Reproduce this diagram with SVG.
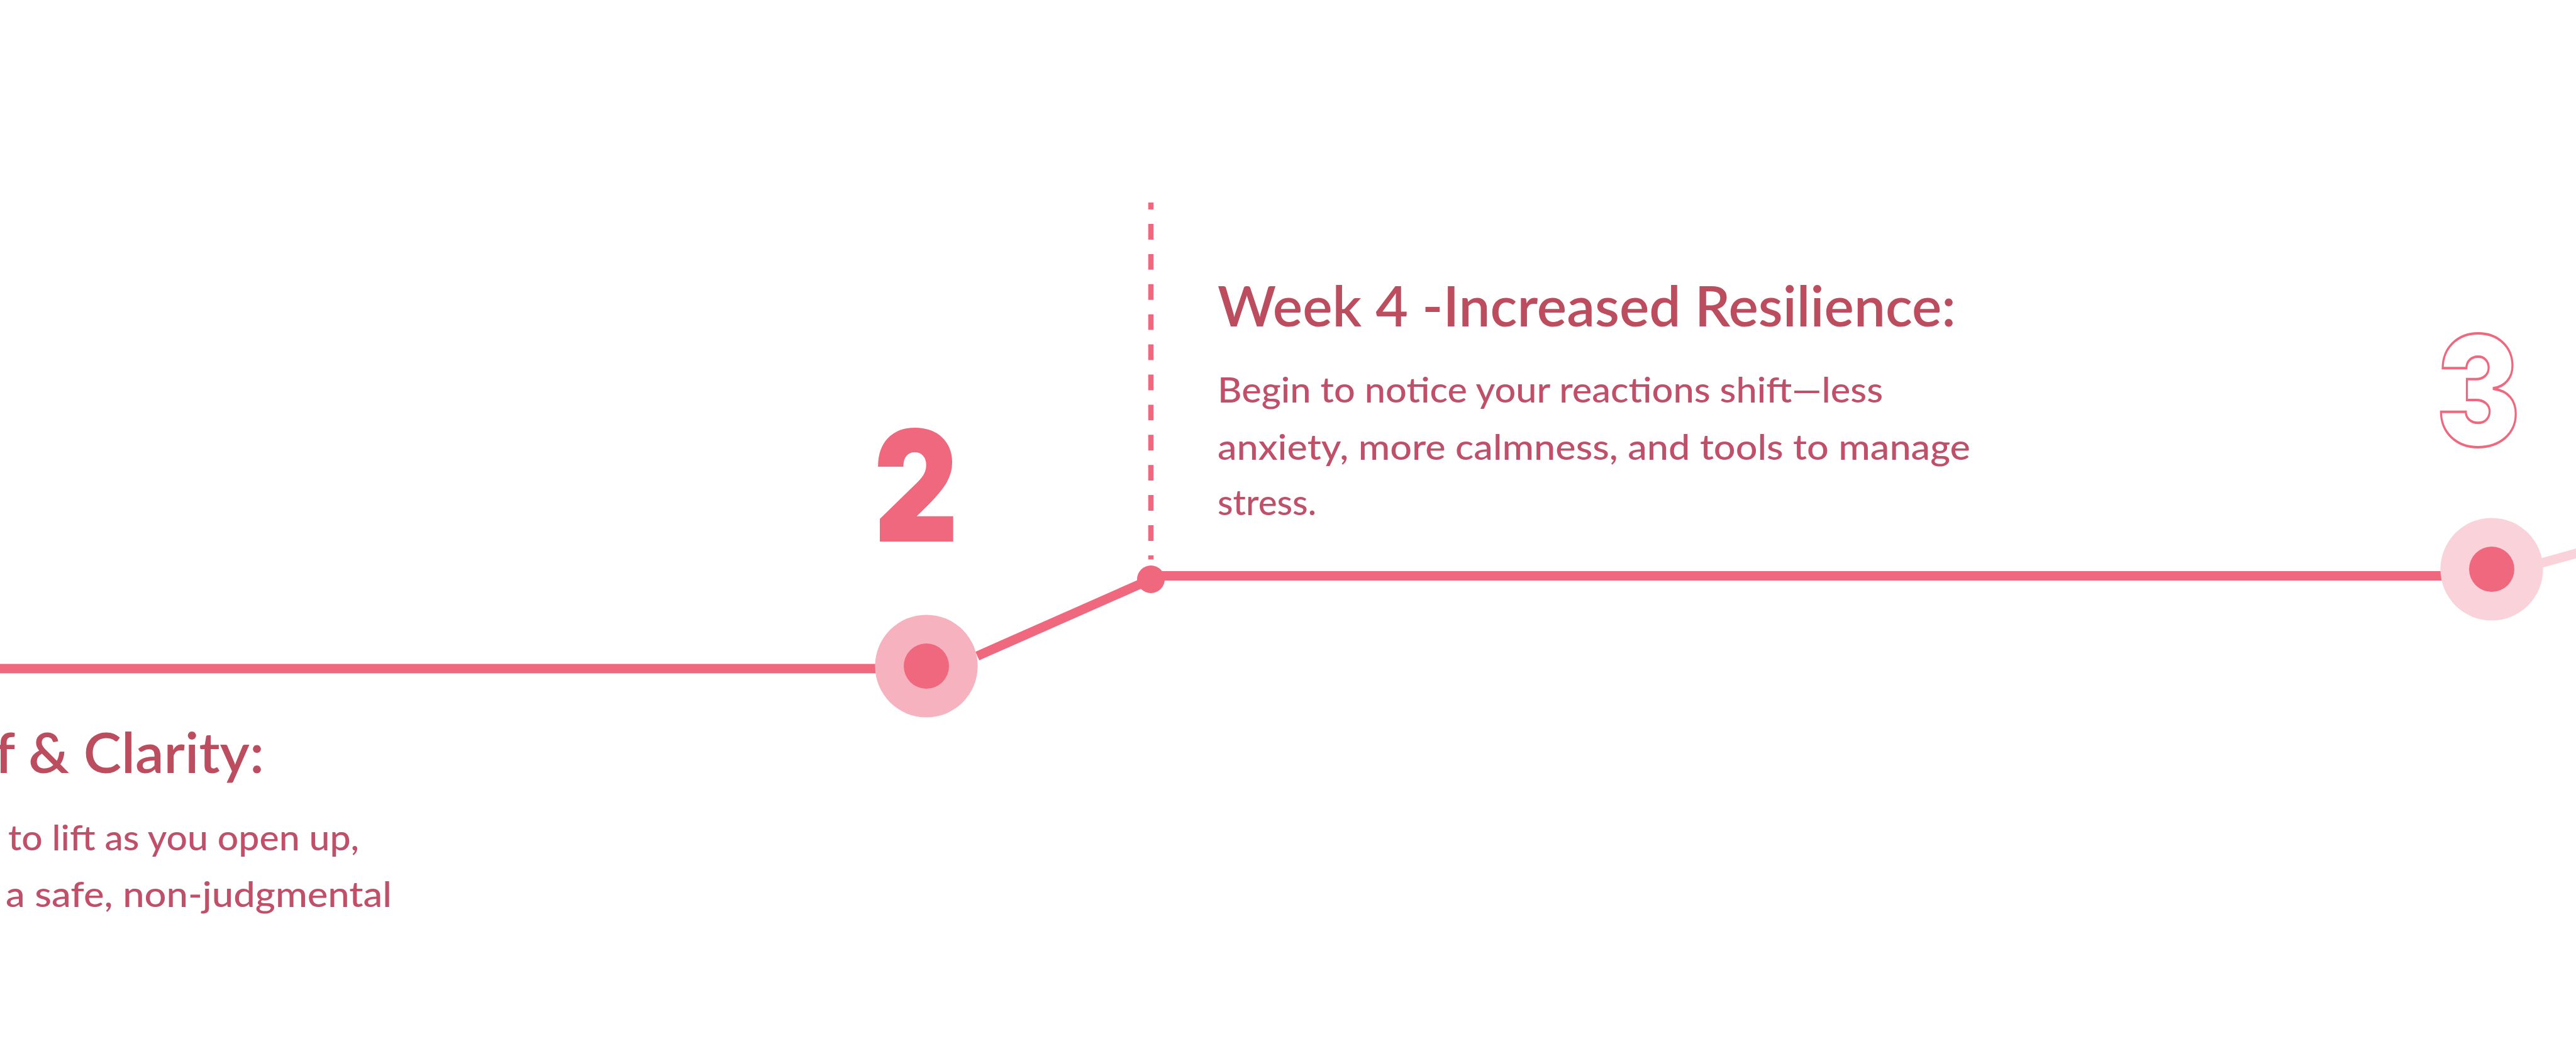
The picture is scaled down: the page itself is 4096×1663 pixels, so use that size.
<svg xmlns="http://www.w3.org/2000/svg" width="4096" height="1663" viewBox="0 0 4096 1663">
<style>
.ln{stroke:#f0687e;stroke-width:15;fill:none}
.title{font-family:Lato,"Open Sans",sans-serif;font-weight:600;font-size:88px;fill:#bb4d5e}
.body{font-family:Lato,"Open Sans",sans-serif;font-weight:500;font-size:56px;fill:#c0506a}
.num{font-family:Inter,Roboto,sans-serif;font-weight:900;font-size:243px}
.core{fill:#f0687e}
</style>
<rect width="4096" height="1663" fill="#ffffff"/>
<g id="connectors">
<line class="ln" x1="0" y1="1063" x2="1440" y2="1063"/>
<line class="ln" x1="1554" y1="1043" x2="1830" y2="921"/>
<line class="ln" x1="1830" y1="915.5" x2="3890" y2="915.5"/>
<line x1="3962" y1="917" x2="4110" y2="876" stroke="#fad3da" stroke-width="15"/>
<line x1="1830" y1="322" x2="1830" y2="889.5" stroke="#f0687e" stroke-width="8.5" stroke-dasharray="24.9 23" stroke-dashoffset="13.9"/>
</g>
<g id="node-2">
<circle cx="1473" cy="1059" r="81.6" fill="#f7b2bf"/>
<circle class="core" cx="1473" cy="1059" r="36"/>
<text class="num" x="1390" y="860" textLength="133" lengthAdjust="spacingAndGlyphs" fill="#f0687e" stroke="#f0687e" stroke-width="2">2</text>
</g>
<g id="dot">
<circle class="core" cx="1830" cy="921" r="22"/>
</g>
<g id="node-3">
<circle cx="3962" cy="905" r="81.6" fill="#fad3da"/>
<circle class="core" cx="3962" cy="905" r="36"/>
<text class="num" x="3874" y="709" textLength="133" lengthAdjust="spacingAndGlyphs" fill="none" stroke="#f0687e" stroke-width="4">3</text>
</g>
<g id="label-week2">
<text class="title" x="-8" y="1229" textLength="428" lengthAdjust="spacingAndGlyphs">f &amp; Clarity:</text>
<text class="body" x="13" y="1352" textLength="558" lengthAdjust="spacingAndGlyphs">to lift as you open up,</text>
<text class="body" x="9" y="1442" textLength="614" lengthAdjust="spacingAndGlyphs">a safe, non-judgmental</text>
</g>
<g id="label-week4">
<text class="title" x="1936" y="519" textLength="1174" lengthAdjust="spacingAndGlyphs">Week 4 -Increased Resilience:</text>
<text class="body" x="1936" y="640" textLength="1058" lengthAdjust="spacingAndGlyphs">Begin to notice your reactions shift—less</text>
<text class="body" x="1936" y="731" textLength="1197" lengthAdjust="spacingAndGlyphs">anxiety, more calmness, and tools to manage</text>
<text class="body" x="1936" y="819" textLength="157" lengthAdjust="spacingAndGlyphs">stress.</text>
</g>
</svg>
